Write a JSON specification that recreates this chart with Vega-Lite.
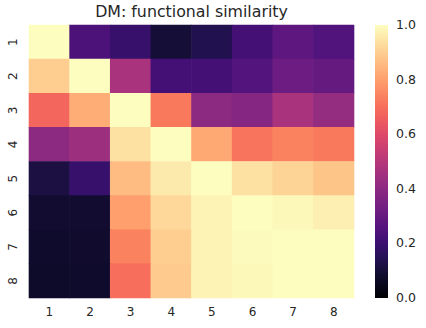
{
  "$schema": "https://vega.github.io/schema/vega-lite/v6.json",
  "autosize": "none",
  "padding": {"left": 29, "top": 25, "right": 72, "bottom": 30},
  "width": 325,
  "height": 273,
  "background": "white",
  "title": {"text": "DM: functional similarity", "font": "DejaVu Sans", "fontSize": 15.8, "fontWeight": "normal", "color": "#262626", "offset": 4, "anchor": "middle"},
  "data": {"values": [
    {"row": 1, "col": 1, "v": 1.0}, {"row": 1, "col": 2, "v": 0.24}, {"row": 1, "col": 3, "v": 0.19}, {"row": 1, "col": 4, "v": 0.1}, {"row": 1, "col": 5, "v": 0.14}, {"row": 1, "col": 6, "v": 0.22}, {"row": 1, "col": 7, "v": 0.28}, {"row": 1, "col": 8, "v": 0.25},
    {"row": 2, "col": 1, "v": 0.9}, {"row": 2, "col": 2, "v": 1.0}, {"row": 2, "col": 3, "v": 0.47}, {"row": 2, "col": 4, "v": 0.22}, {"row": 2, "col": 5, "v": 0.22}, {"row": 2, "col": 6, "v": 0.26}, {"row": 2, "col": 7, "v": 0.32}, {"row": 2, "col": 8, "v": 0.3},
    {"row": 3, "col": 1, "v": 0.68}, {"row": 3, "col": 2, "v": 0.83}, {"row": 3, "col": 3, "v": 1.0}, {"row": 3, "col": 4, "v": 0.72}, {"row": 3, "col": 5, "v": 0.4}, {"row": 3, "col": 6, "v": 0.38}, {"row": 3, "col": 7, "v": 0.47}, {"row": 3, "col": 8, "v": 0.42},
    {"row": 4, "col": 1, "v": 0.4}, {"row": 4, "col": 2, "v": 0.44}, {"row": 4, "col": 3, "v": 0.94}, {"row": 4, "col": 4, "v": 1.0}, {"row": 4, "col": 5, "v": 0.82}, {"row": 4, "col": 6, "v": 0.71}, {"row": 4, "col": 7, "v": 0.74}, {"row": 4, "col": 8, "v": 0.72},
    {"row": 5, "col": 1, "v": 0.12}, {"row": 5, "col": 2, "v": 0.19}, {"row": 5, "col": 3, "v": 0.86}, {"row": 5, "col": 4, "v": 0.96}, {"row": 5, "col": 5, "v": 1.0}, {"row": 5, "col": 6, "v": 0.94}, {"row": 5, "col": 7, "v": 0.91}, {"row": 5, "col": 8, "v": 0.88},
    {"row": 6, "col": 1, "v": 0.09}, {"row": 6, "col": 2, "v": 0.09}, {"row": 6, "col": 3, "v": 0.8}, {"row": 6, "col": 4, "v": 0.92}, {"row": 6, "col": 5, "v": 0.98}, {"row": 6, "col": 6, "v": 1.0}, {"row": 6, "col": 7, "v": 0.99}, {"row": 6, "col": 8, "v": 0.97},
    {"row": 7, "col": 1, "v": 0.08}, {"row": 7, "col": 2, "v": 0.085}, {"row": 7, "col": 3, "v": 0.74}, {"row": 7, "col": 4, "v": 0.9}, {"row": 7, "col": 5, "v": 0.98}, {"row": 7, "col": 6, "v": 0.995}, {"row": 7, "col": 7, "v": 1.0}, {"row": 7, "col": 8, "v": 1.0},
    {"row": 8, "col": 1, "v": 0.075}, {"row": 8, "col": 2, "v": 0.08}, {"row": 8, "col": 3, "v": 0.7}, {"row": 8, "col": 4, "v": 0.89}, {"row": 8, "col": 5, "v": 0.98}, {"row": 8, "col": 6, "v": 0.99}, {"row": 8, "col": 7, "v": 1.0}, {"row": 8, "col": 8, "v": 1.0}
  ]},
  "mark": {"type": "rect", "strokeWidth": 0, "width": {"band": 1.015}, "height": {"band": 1.015}},
  "encoding": {
    "x": {"field": "col", "type": "ordinal", "scale": {"paddingInner": 0, "paddingOuter": 0},
      "axis": {"title": null, "labelAngle": 0, "ticks": false, "domain": false, "labelFont": "DejaVu Sans", "labelFontSize": 12, "labelColor": "#262626", "labelPadding": 8}},
    "y": {"field": "row", "type": "ordinal", "scale": {"paddingInner": 0, "paddingOuter": 0},
      "axis": {"title": null, "labelAngle": -90, "labelAlign": "center", "labelBaseline": "bottom", "ticks": false, "domain": false, "labelFont": "DejaVu Sans", "labelFontSize": 12, "labelColor": "#262626", "labelPadding": 10}},
    "color": {"field": "v", "type": "quantitative", "scale": {"scheme": "magma", "domain": [0, 1]},
      "legend": {"type": "gradient", "title": null, "orient": "none", "legendX": 346, "legendY": 0, "direction": "vertical", "gradientLength": 273, "gradientThickness": 13, "gradientStrokeWidth": 0, "values": [0, 0.2, 0.4, 0.6, 0.8, 1.0], "format": ".1f", "labelFont": "DejaVu Sans", "labelFontSize": 12.5, "labelColor": "#262626", "labelOffset": 8, "labelOverlap": false,
        "encode": {"labels": {"update": {"baseline": {"value": "middle"}}}}}}
  },
  "config": {"view": {"stroke": null}}
}
